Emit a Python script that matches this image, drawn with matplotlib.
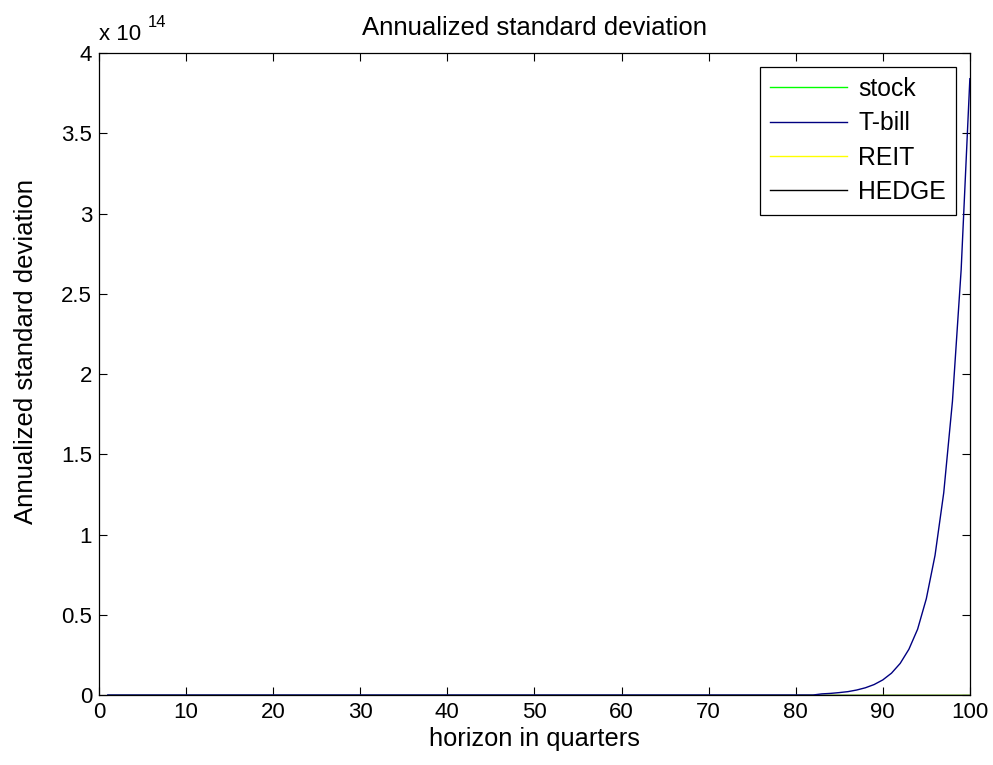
import numpy as np
import matplotlib
matplotlib.use('Agg')
import matplotlib.pyplot as plt
from matplotlib.ticker import FuncFormatter

plt.rcParams['font.family'] = ['Liberation Sans', 'DejaVu Sans']

# horizon (quarters) and annualized std dev of each asset
quarters = np.arange(1, 101)
stock = [0.0] * 100
reit = [0.0] * 100
hedge = [0.0] * 100
# T-bill blows up over the last quarters (values in absolute units)
tbill_tail = [0.007e14, 0.010e14, 0.015e14, 0.021e14, 0.031e14, 0.045e14,
              0.065e14, 0.094e14, 0.136e14, 0.197e14, 0.285e14, 0.41e14,
              0.60e14, 0.87e14, 1.26e14, 1.83e14, 2.65e14, 3.84e14]
tbill = [0.0] * (100 - len(tbill_tail)) + tbill_tail

labels = ['stock', 'T-bill', 'REIT', 'HEDGE']
colors = ['#00ff00', '#000080', '#ffff00', '#000000']

fig = plt.figure(figsize=(9.93, 7.65), dpi=100)
ax = fig.add_axes([0.0997, 0.0915, 0.877, 0.8392])

ax.plot(quarters, stock, color=colors[0], lw=1.0, label=labels[0])
ax.plot(quarters, tbill, color=colors[1], lw=1.0, label=labels[1], zorder=3)
ax.plot(quarters, reit, color=colors[2], lw=1.0, label=labels[2])
ax.plot(quarters, hedge, color=colors[3], lw=1.0, label=labels[3])

ax.set_xlim(0, 100)
ax.set_ylim(0, 4e14)
ax.set_xticks(np.arange(0, 101, 10))
ax.set_yticks(np.arange(0, 4.01e14, 0.5e14))
ax.yaxis.set_major_formatter(FuncFormatter(lambda v, p: '%g' % (v / 1e14)))
ax.tick_params(direction='in', length=6, width=0.8, top=True, right=True,
               labelsize=16, pad=5)
for s in ax.spines.values():
    s.set_linewidth(0.9)

# exponent label in the top-left corner
ax.text(0.0, 1.012, 'x 10', transform=ax.transAxes, fontsize=16,
        ha='left', va='bottom')
ax.text(0.056, 1.036, '14', transform=ax.transAxes, fontsize=12,
        ha='left', va='bottom')

ax.set_title('Annualized standard deviation', fontsize=18.5, pad=13)
ax.set_xlabel('horizon in quarters', fontsize=18.3, labelpad=3)
ax.set_ylabel('Annualized standard deviation', fontsize=18.5)
ax.yaxis.set_label_coords(-0.07, 0.535)

leg = ax.legend(loc='upper right', fontsize=17.8, fancybox=False,
                framealpha=1, edgecolor='black', borderaxespad=0.55,
                handlelength=3.1, handletextpad=0.45, labelspacing=0.42,
                borderpad=0.42)
leg.get_frame().set_linewidth(0.9)

fig.savefig('out.png', dpi=100, facecolor='white')
